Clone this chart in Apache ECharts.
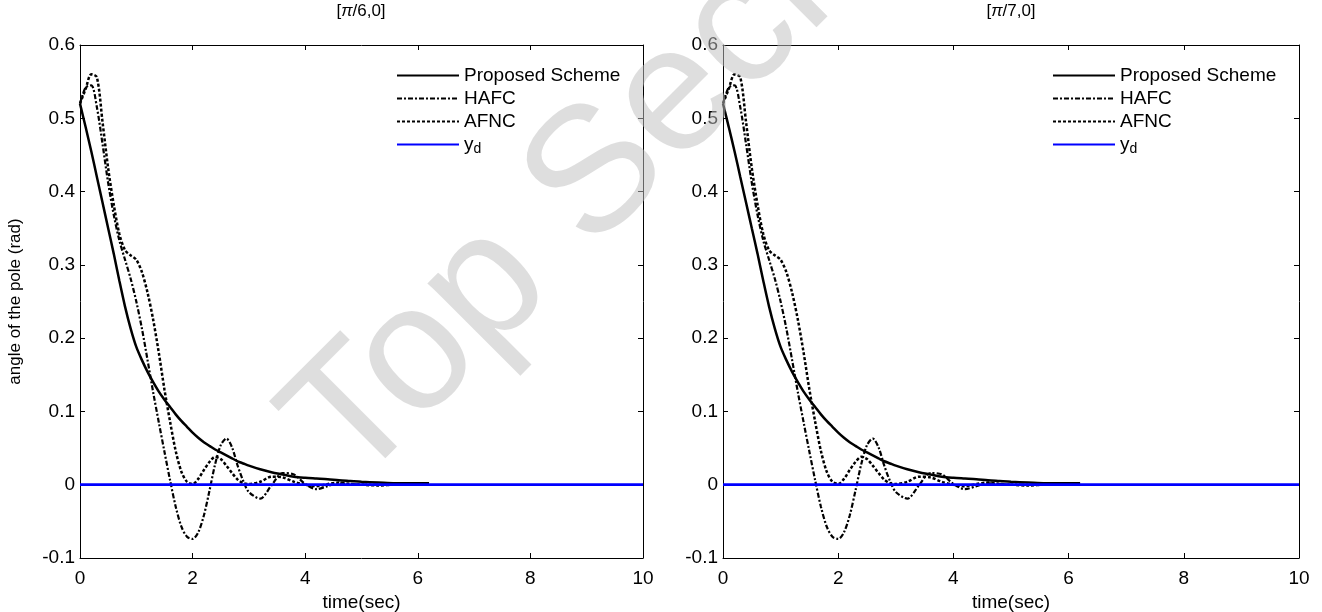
<!DOCTYPE html>
<html>
<head>
<meta charset="utf-8">
<script src="https://cdn.jsdelivr.net/npm/echarts@6/dist/echarts.min.js"></script>
<style>
html,body{margin:0;padding:0;background:#fff;}
#c{width:1322px;height:612px;}
</style>
</head>
<body>
<div id="c"></div>
<script>
// ---- data ----
const time = [0,0.1,0.2,0.3,0.4,0.5,0.6,0.7,0.8,0.9,1.0,1.1,1.2,1.3,1.4,1.5,1.6,1.7,1.8,1.9,2.0,2.1,2.2,2.3,2.4,2.5,2.6,2.7,2.8,2.9,3.0,3.2,3.4,3.6,3.8,4.0,4.2,4.4,4.6,4.8,5.0,5.3,5.6,5.9,6.2];
const proposed = [0.52,0.488,0.455,0.42,0.385,0.35,0.315,0.278,0.243,0.213,0.188,0.170,0.154,0.140,0.127,0.116,0.106,0.096,0.087,0.079,0.071,0.064,0.058,0.053,0.048,0.044,0.040,0.036,0.032,0.029,0.026,0.021,0.017,0.014,0.011,0.0095,0.0085,0.0075,0.006,0.005,0.004,0.003,0.002,0.002,0.002];
const hafc = [0.52,0.542,0.545,0.515,0.465,0.412,0.368,0.333,0.307,0.281,0.250,0.213,0.170,0.126,0.085,0.045,0.006,-0.030,-0.057,-0.071,-0.074,-0.065,-0.042,-0.008,0.028,0.054,0.063,0.051,0.026,0.005,-0.010,-0.019,-0.001,0.016,0.014,0.001,-0.006,-0.002,0.002,0.001,0,0,0,0,0];
const afnc = [0.52,0.540,0.560,0.556,0.495,0.432,0.382,0.342,0.320,0.313,0.307,0.290,0.262,0.225,0.180,0.130,0.086,0.046,0.018,0.004,0.001,0.008,0.020,0.031,0.038,0.035,0.026,0.016,0.007,0.002,0.001,0.004,0.011,0.010,0.004,0.000,-0.002,0.001,0.003,0.001,0,-0.001,0,0,0];
const ydTime = [0,10];
const ydVals = [0,0];
const seriesNames = ['Proposed Scheme','HAFC','AFNC','y_d'];
const xTicks = {min:0, max:10, interval:2};
const yTicks = {min:-0.1, max:0.6, interval:0.1};
const titles = ['[{i|π}/6,0]','[{i|π}/7,0]'];

const pairs = (xs, ys) => xs.map((x,i)=>[x, ys[i]]);
const FONT = "'Liberation Sans', Arial, sans-serif";
const FS = 19;

const grids = [
  {left:80, top:45, width:563, height:513, containLabel:false, outerBoundsMode:'none'},
  {left:723, top:45, width:576, height:513, containLabel:false, outerBoundsMode:'none'}
];

const xAxis = [], yAxis = [];
grids.forEach((g,gi)=>{
  const base = {
    gridIndex: gi, type:'value', min:xTicks.min, max:xTicks.max, interval:xTicks.interval,
    axisLine:{show:true, onZero:false, lineStyle:{color:'#000', width:1}},
    axisTick:{show:true, inside:true, length:5, lineStyle:{color:'#000'}},
    splitLine:{show:false}
  };
  xAxis.push(Object.assign({}, base, {
    position:'bottom',
    axisLabel:{color:'#000', fontSize:FS, fontFamily:FONT, margin:11},
    name: 'time(sec)', nameLocation:'middle', nameGap:33,
    nameTextStyle:{color:'#000', fontSize:FS, fontFamily:FONT}
  }));
  xAxis.push(Object.assign({}, base, {position:'top', axisLabel:{show:false}}));
  const ybase = {
    gridIndex: gi, type:'value', min:yTicks.min, max:yTicks.max, interval:yTicks.interval,
    axisLine:{show:true, onZero:false, lineStyle:{color:'#000', width:1}},
    axisTick:{show:true, inside:true, length:5, lineStyle:{color:'#000'}},
    splitLine:{show:false}
  };
  const yl = Object.assign({}, ybase, {
    position:'left',
    axisLabel:{color:'#000', fontSize:FS, fontFamily:FONT, margin:5,
      formatter: v => String(Number(v.toFixed(1)))}
  });
  if (gi === 0) {
    yl.name = 'angle of the pole (rad)';
    yl.nameLocation = 'middle';
    yl.nameGap = 56;
    yl.nameRotate = 90;
    yl.nameTextStyle = {color:'#000', fontSize:17, fontFamily:FONT};
  }
  yAxis.push(yl);
  yAxis.push(Object.assign({}, ybase, {position:'right', axisLabel:{show:false}}));
});

const series = [];
grids.forEach((g,gi)=>{
  const xi = gi*2, yi = gi*2;
  series.push({name:seriesNames[0], type:'line', xAxisIndex:xi, yAxisIndex:yi, data:pairs(time, proposed),
    symbol:'none', smooth:0.3, lineStyle:{color:'#000', width:2.5, type:'solid'}, itemStyle:{color:'#000'}});
  series.push({name:seriesNames[1], type:'line', xAxisIndex:xi, yAxisIndex:yi, data:pairs(time, hafc),
    symbol:'none', smooth:0.3, lineStyle:{color:'#000', width:2.2, type:[5,2,2,2]}, itemStyle:{color:'#000'}});
  series.push({name:seriesNames[2], type:'line', xAxisIndex:xi, yAxisIndex:yi, data:pairs(time, afnc),
    symbol:'none', smooth:0.3, lineStyle:{color:'#000', width:2.5, type:[3,2]}, itemStyle:{color:'#000'}});
  series.push({name:seriesNames[3], type:'line', xAxisIndex:xi, yAxisIndex:yi, data:pairs(ydTime, ydVals),
    symbol:'none', lineStyle:{color:'#0000ff', width:2.8, type:'solid'}, itemStyle:{color:'#0000ff'}});
});

const legendBase = {
  orient:'vertical', itemWidth:62, itemHeight:14, itemGap:4,
  data: seriesNames,
  itemStyle:{opacity:0},
  lineStyle:{opacity:1},
  formatter: n => n === 'y_d' ? '{n|y}{s|d}' : n,
  textStyle:{color:'#000', fontSize:FS, fontFamily:FONT,
    rich:{n:{fontSize:FS, fontFamily:FONT, color:'#000'}, s:{fontSize:14, fontFamily:FONT, color:'#000', padding:[10,0,0,0]}}},
  selectedMode:false
};
const legend = [
  Object.assign({}, legendBase, {left:391, top:61}),
  Object.assign({}, legendBase, {left:1047, top:61})
];

const graphic = [
  {type:'text', x:361, y:3, style:{text:titles[0], align:'center', textAlign:'center', verticalAlign:'top', textVerticalAlign:'top', fill:'#000',
    font:"17px " + FONT, rich:{i:{fontStyle:'italic', fontSize:17, fontFamily:FONT}}}},
  {type:'text', x:1011, y:3, style:{text:titles[1], align:'center', textAlign:'center', verticalAlign:'top', textVerticalAlign:'top', fill:'#000',
    font:"17px " + FONT, rich:{i:{fontStyle:'italic', fontSize:17, fontFamily:FONT}}}},
  {type:'text', x:362, y:500, rotation:Math.PI/4, z:100, silent:true,
    style:{text:'Top Secret', x:0, y:-62, align:'left', textAlign:'left', verticalAlign:'middle', textVerticalAlign:'middle',
      fill:'rgba(192,192,192,0.52)', font:"178px " + FONT}}
];

const chart = echarts.init(document.getElementById('c'), null, {renderer:'canvas'});
chart.setOption({
  animation:false,
  backgroundColor:'#fff',
  grid: grids,
  xAxis, yAxis, series, legend, graphic
});
</script>
</body>
</html>
